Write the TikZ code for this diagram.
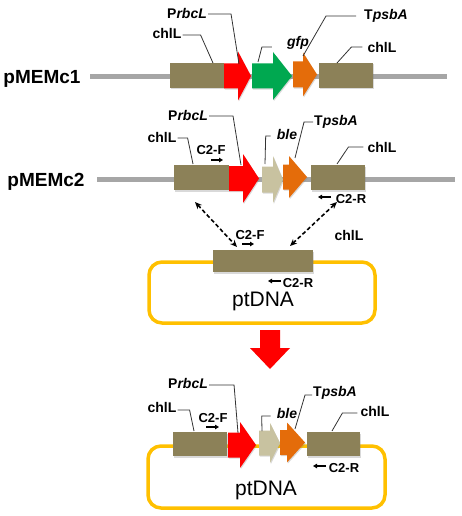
\documentclass[tikz,border=0pt]{standalone}
\usepackage{fontspec}
\setmainfont{Liberation Sans}
\usetikzlibrary{arrows.meta,shadows}
\definecolor{boxbrown}{RGB}{140,129,88}
\definecolor{genered}{RGB}{255,0,0}
\definecolor{genegreen}{RGB}{0,168,80}
\definecolor{geneorange}{RGB}{228,108,10}
\definecolor{genebeige}{RGB}{200,194,160}
\definecolor{bbgray}{RGB}{166,166,166}
\definecolor{ptyellow}{RGB}{255,192,0}
\newcommand\genearr[7]{%
  \path[fill=#7, drop shadow={shadow xshift=0.8pt, shadow yshift=-1.2pt, opacity=0.3}]
    (#1,{#4-#5}) -- (#2,{#4-#5}) -- (#2,{#4-#6}) -- (#3,#4) -- (#2,{#4+#6}) -- (#2,{#4+#5}) -- (#1,{#4+#5}) -- cycle;}
\newcommand\genebox[4]{%
  \path[fill=boxbrown, drop shadow={shadow xshift=0.8pt, shadow yshift=-1.5pt, opacity=0.3}]
    (#1,#3) rectangle (#2,#4);}
\tikzset{
  lab/.style={inner sep=1pt, font=\bfseries\fontsize{14}{16}\selectfont},
  plab/.style={inner sep=1pt, font=\bfseries\fontsize{13}{15}\selectfont},
  big/.style={inner sep=1pt, font=\bfseries\fontsize{19}{21}\selectfont},
  pt/.style={inner sep=1pt, font=\fontsize{21}{23}\selectfont},
  leader/.style={draw=black!80, line width=0.8pt},
  primer/.style={draw=black, line width=1.1pt, -{Triangle[length=4pt,width=4.5pt]}},
  backbone/.style={draw=bbgray, line width=5pt},
  ptring/.style={draw=ptyellow, line width=3.5pt, rounded corners=13pt},
  dasharr/.style={draw=black, line width=1.6pt, dash pattern=on 4pt off 2.5pt,
    {Stealth[length=7pt,width=6pt]}-{Stealth[length=7pt,width=6pt]}}
}
\begin{document}
\begin{tikzpicture}[x=1pt,y=-1pt]
\useasboundingbox (0,0) rectangle (461,516);
% ---------------- Row 1: pMEMc1
\draw[backbone] (90,77) coordinate (r1s) -- (447,77) coordinate (r1e);
\genebox{170}{224}{63}{88}
\genearr{224}{238}{251}{76}{12.5}{24.5}{genered}
\genearr{252}{273}{292}{76}{12.5}{24}{genegreen}
\genearr{293}{303}{317}{74.5}{13}{22}{geneorange}
\genebox{319}{373}{63}{88}
\coordinate (r1b1t) at (213,63);
\coordinate (r1rt) at (239,64);
\coordinate (r1gt) at (258,62);
\coordinate (r1ot) at (303,56);
\coordinate (r1b2t) at (337,63);
\node[big] (pm1) at (42,79) {pMEMc1};
\node[lab] (r1chl) at (167,33) {chlL};
\node[lab] (r1p) at (187,13) {P\textit{rbcL}};
\node[lab] (r1gfp) at (298,43) {\textit{gfp}};
\node[lab] (r1t) at (386,16) {T\textit{psbA}};
\node[lab] (r1chr) at (382,47) {chlL};
\draw[leader] ([yshift=-2pt]r1chl.east) -- ++(18,0) -- (r1b1t);
\draw[leader] ([yshift=-1pt]r1p.east) -- ++(23,0) -- (r1rt);
\draw[leader] ([xshift=-14pt,yshift=-4pt]r1gfp.west) -- ++(-10,0) -- (r1gt);
\draw[leader] ([xshift=-7pt]r1t.west) -- ++(-30,0) -- (r1ot);
\draw[leader] ([xshift=-4pt]r1chr.west) -- ++(-11,0) -- (r1b2t);
% ---------------- Row 2: pMEMc2
\draw[backbone] (97,179) coordinate (r2s) -- (455,179) coordinate (r2e);
\genebox{174}{229}{165}{190}
\genearr{229}{243}{259}{178.5}{12.5}{24.5}{genered}
\genearr{262}{273}{283}{179.5}{13}{23.5}{genebeige}
\genearr{283}{289}{307}{177}{12.5}{21}{geneorange}
\genebox{311}{365}{165}{190}
\coordinate (r2b1t) at (193,164);
\coordinate (r2rt) at (241,165);
\coordinate (r2bt) at (265,164);
\coordinate (r2ot) at (295,158);
\coordinate (r2b2t) at (337,164);
\node[big] (pm2) at (46,182) {pMEMc2};
\node[lab] (r2chl) at (162,137) {chlL};
\node[lab] (r2p) at (188,115) {P\textit{rbcL}};
\node[lab] (r2ble) at (287,134) {\textit{ble}};
\node[lab] (r2t) at (336,122) {T\textit{psbA}};
\node[lab] (r2chr) at (382,147) {chlL};
\node[plab] (r2cf) at (211,150) {C2-F};
\node[plab] (r2cr) at (351,199) {C2-R};
\draw[leader] ([yshift=-1pt]r2chl.east) -- ++(10,0) -- (r2b1t);
\draw[leader] ([yshift=-1pt]r2p.east) -- ++(24,0) -- (r2rt);
\draw[leader] ([xshift=-5pt,yshift=-2pt]r2ble.west) -- ++(-5,0) -- (r2bt);
\draw[leader] (r2t.west) -- ++(-9,0) -- (r2ot);
\draw[leader] ([xshift=-3pt]r2chr.west) -- ++(-15,0) -- (r2b2t);
\coordinate (r2fa) at (211,160); \coordinate (r2fb) at (223,160);
\draw[primer] (r2fa) -- (r2fb);
\coordinate (r2ra) at (331,197); \coordinate (r2rb) at (318,197);
\draw[primer] (r2ra) -- (r2rb);
% ---------------- Row 3: ptDNA
\draw[ptring] (149,262) rectangle (375,323);
\genebox{213}{313}{250}{272}
\coordinate (d1a) at (195,202); \coordinate (d1b) at (237,247);
\coordinate (d2a) at (337,202); \coordinate (d2b) at (290,246);
\draw[dasharr] (d1a) -- (d1b);
\draw[dasharr] (d2a) -- (d2b);
\node[plab] (r3cf) at (250,235) {C2-F};
\node[lab] (r3chl) at (349,235) {chlL};
\node[plab] (r3cr) at (298,283) {C2-R};
\node[pt] (r3pt) at (263,301) {ptDNA};
\coordinate (r3fa) at (242,244); \coordinate (r3fb) at (254,244);
\draw[primer] (r3fa) -- (r3fb);
\coordinate (r3ra) at (281,281); \coordinate (r3rb) at (268,281);
\draw[primer] (r3ra) -- (r3rb);
% big red arrow
\fill[genered] (260,330) -- (280,330) -- (280,348) -- (290,348) -- (270,369) -- (250,348) -- (260,348) -- cycle;
% ---------------- Row 4: recombined ptDNA
\draw[ptring] (148,446) rectangle (385,508);
\genebox{173}{227}{432}{456}
\genearr{228}{240}{256}{445}{12.5}{23}{genered}
\genearr{259}{270}{280}{443}{12.5}{20}{genebeige}
\genearr{280}{287}{305}{442.5}{12.5}{20}{geneorange}
\genebox{307}{360}{432}{456}
\coordinate (r4b1t) at (194,431);
\coordinate (r4rt) at (238,433);
\coordinate (r4bt) at (262,431);
\coordinate (r4ot) at (295,429);
\coordinate (r4b2t) at (332,431);
\node[lab] (r4chl) at (162,407) {chlL};
\node[lab] (r4p) at (188,383) {P\textit{rbcL}};
\node[lab] (r4ble) at (287,413) {\textit{ble}};
\node[lab] (r4t) at (335,393) {T\textit{psbA}};
\node[lab] (r4chr) at (375,411) {chlL};
\node[plab] (r4cf) at (213,418) {C2-F};
\node[plab] (r4cr) at (344,468) {C2-R};
\node[pt] (r4pt) at (266,490) {ptDNA};
\draw[leader] ([yshift=-3pt]r4chl.east) -- ++(12,0) -- (r4b1t);
\draw[leader] ([yshift=-2pt]r4p.east) -- ++(25,0) -- (r4rt);
\draw[leader] ([xshift=-5pt,yshift=-3pt]r4ble.west) -- ++(-9,0) -- (r4bt);
\draw[leader] ([yshift=-2pt]r4t.west) -- ++(-7,0) -- (r4ot);
\draw[leader] ([xshift=-2pt,yshift=-2pt]r4chr.west) -- ++(-15,0) -- (r4b2t);
\coordinate (r4fa) at (206,427); \coordinate (r4fb) at (219,427);
\draw[primer] (r4fa) -- (r4fb);
\coordinate (r4ra) at (326,466); \coordinate (r4rb) at (313,466);
\draw[primer] (r4ra) -- (r4rb);
\end{tikzpicture}
\end{document}
